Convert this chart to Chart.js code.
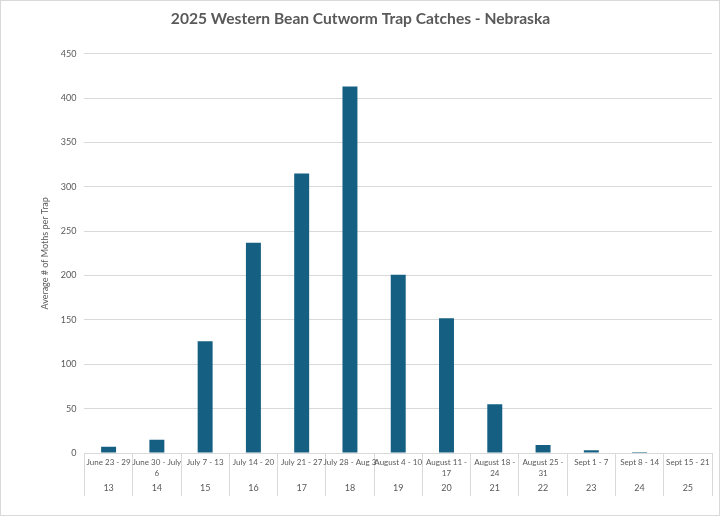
<!DOCTYPE html>
<html>
<head>
<meta charset="utf-8">
<script src="https://cdn.jsdelivr.net/npm/chart.js@4"></script>
<style>
  body { margin: 0; background: #fff; }
  #wrap { width: 718px; height: 514px; border: 1px solid #d9d9d9; }
</style>
</head>
<body>
<div id="wrap"><canvas id="myChart"></canvas></div>
<script>
var dateRanges = [
  "June 23 - 29", ["June 30 - July", "6"], "July 7 - 13", "July 14 - 20",
  "July 21 - 27", "July 28 - Aug 3", "August 4 - 10", ["August 11 -", "17"],
  ["August 18 -", "24"], ["August 25 -", "31"], "Sept 1 - 7", "Sept 8 - 14",
  "Sept 15 - 21"
];
var weeks = ["13", "14", "15", "16", "17", "18", "19", "20", "21", "22", "23", "24", "25"];
var avgMoths = [7, 15, 126, 237, 315, 413, 201, 152, 55, 9, 3, 1, 0];
var yTicks = [0, 50, 100, 150, 200, 250, 300, 350, 400, 450];

var textColor = "#595959";
var gridColor = "#d9d9d9";
var font = "Lato, 'Noto Sans', sans-serif";

new Chart("myChart", {
  type: "bar",
  data: {
    labels: dateRanges,
    datasets: [{
      data: avgMoths,
      backgroundColor: "#156082",
      barPercentage: 0.31,
      categoryPercentage: 1,
      xAxisID: "x"
    }]
  },
  options: {
    responsive: true,
    maintainAspectRatio: false,
    animation: false,
    layout: {padding: {left: 8, right: 7, top: 2, bottom: 19}},
    plugins: {
      legend: {display: false},
      tooltip: {enabled: false},
      title: {
        display: true,
        text: "2025 Western Bean Cutworm Trap Catches - Nebraska",
        color: textColor,
        font: {family: font, size: 15.6, weight: "bold"},
        padding: {top: 7, bottom: 25}
      }
    },
    scales: {
      y: {
        min: 0,
        max: 450,
        afterBuildTicks: function(s) { s.ticks = yTicks.map(function(v) { return {value: v}; }); },
        grid: {color: gridColor, drawTicks: false},
        border: {display: false},
        ticks: {color: textColor, font: {family: font, size: 9}, padding: 8},
        title: {
          display: true,
          text: "Average # of Moths per Trap",
          color: textColor,
          font: {family: font, size: 9},
          padding: {top: 31, bottom: 2}
        }
      },
      x: {
        position: "bottom",
        offset: true,
        afterFit: function(s) { s.height = 28; },
        grid: {offset: true, drawOnChartArea: false, color: gridColor, tickLength: 28},
        border: {display: true, color: gridColor},
        ticks: {
          color: textColor,
          font: {family: font, size: 8, lineHeight: 1.35},
          padding: -24,
          maxRotation: 0,
          autoSkip: false
        }
      },
      x2: {
        type: "category",
        position: "bottom",
        labels: weeks,
        offset: true,
        afterFit: function(s) { s.height = 15; },
        grid: {offset: true, drawOnChartArea: false, color: gridColor, tickLength: 15},
        border: {display: false},
        ticks: {
          color: textColor,
          font: {family: font, size: 9},
          padding: -13,
          maxRotation: 0,
          autoSkip: false
        }
      }
    }
  }
});
</script>
</body>
</html>
